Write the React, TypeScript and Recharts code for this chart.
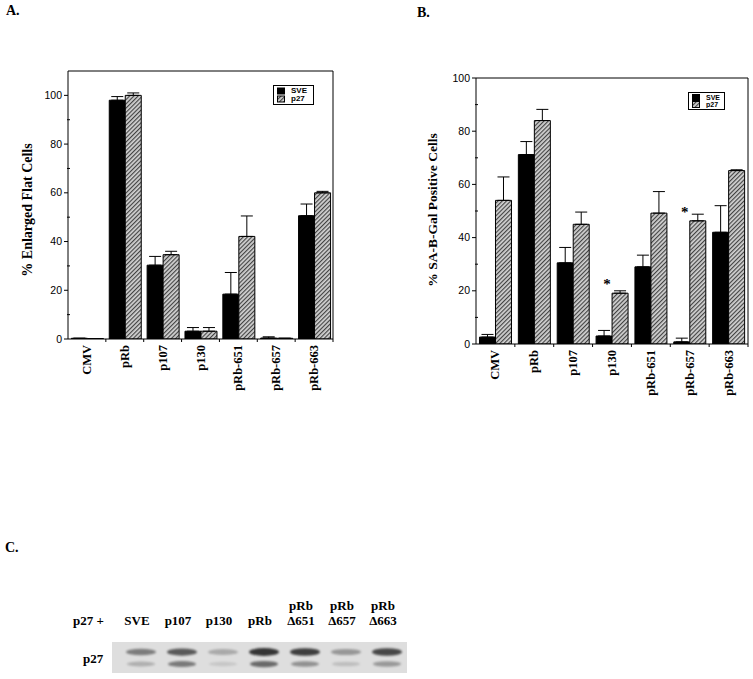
import { BarChart, Bar, XAxis, YAxis, ErrorBar, LabelList } from "recharts";

const categories = ["CMV", "pRb", "p107", "p130", "pRb-651", "pRb-657", "pRb-663"];

// panel A: % enlarged flat cells
const flatSve = [0.3, 98, 30.3, 3.2, 18.4, 0.4, 50.6];
const flatSveErr = [0, 1.5, 3.6, 1.5, 8.9, 0.5, 4.8];
const flatP27 = [0.2, 100, 34.6, 3.2, 42.1, 0.3, 60];
const flatP27Err = [0, 1, 1.4, 1.5, 8.4, 0, 0.6];
const flatTicks = [0, 10, 20, 30, 40, 50, 60, 70, 80, 90, 100];

// panel B: % SA-B-Gal positive cells
const galSve = [2.6, 71.2, 30.5, 3, 29, 0.8, 42];
const galSveErr = [1, 4.9, 5.8, 2.1, 4.4, 1.4, 10];
const galP27 = [54, 84, 45, 19.1, 49.2, 46.3, 65.2];
const galP27Err = [8.8, 4.2, 4.6, 0.9, 8.1, 2.5, 0.3];
const galStars = [false, false, false, true, false, true, false];
const galTicks = [0, 10, 20, 30, 40, 50, 60, 70, 80, 90, 100];

// panel C: western blot lanes
const blotLanes = ["SVE", "p107", "p130", "pRb", "Δ651", "Δ657", "Δ663"];
const blotTop = ["", "", "", "", "pRb", "pRb", "pRb"];
const blotUpper = [0.55, 0.75, 0.3, 0.95, 0.9, 0.4, 0.85];
const blotLower = [0.3, 0.65, 0.15, 0.75, 0.5, 0.2, 0.45];

const SERIF = "'Liberation Serif', 'Times New Roman', serif";
const SANS = "'Liberation Sans', Arial, sans-serif";

const buildRows = (sve: number[], sveErr: number[], p27: number[], p27Err: number[], stars?: boolean[]) =>
  categories.map((name, i) => ({
    name,
    sve: sve[i],
    sveErr: [0, sveErr[i]],
    p27: p27[i],
    p27Err: [0, p27Err[i]],
    star: stars ? stars[i] : false,
  }));

function CatTick(props: any) {
  const { x, y, payload, band } = props;
  return (
    <g>
      <line x1={x + band / 2} x2={x + band / 2} y1={y} y2={y + 3} stroke="#000" />
      <text
        transform={`translate(${x + 4},${y + 6}) rotate(-90)`}
        textAnchor="end"
        fontFamily={SERIF}
        fontWeight="bold"
        fontSize={12.5}
        fill="#000"
      >
        {payload.value}
      </text>
    </g>
  );
}

function ValTick(props: any) {
  const { x, y, payload } = props;
  const major = payload.value % 20 === 0;
  return (
    <g>
      <line x1={major ? x - 4 : x - 1} x2={major ? x : x + 2} y1={y} y2={y} stroke="#000" />
      {major && (
        <text x={x - 6} y={y} dy={3.6} textAnchor="end" fontFamily={SANS} fontSize={10.5} fill="#000">
          {payload.value}
        </text>
      )}
    </g>
  );
}

function Star(props: any) {
  const { x, y, index, stars } = props;
  if (!stars || !stars[index]) return null;
  return (
    <text x={x - 5} y={y - 4} textAnchor="middle" fontFamily={SERIF} fontWeight="bold" fontSize={15} fill="#000" stroke="none">
      *
    </text>
  );
}

function LegendBox({ left, top, w, h, fs }: { left: number; top: number; w: number; h: number; fs: number }) {
  const row = (h - 4) / 2;
  return (
    <div
      style={{
        position: "absolute",
        left,
        top,
        width: w,
        height: h,
        border: "1px solid #000",
        boxSizing: "border-box",
        background: "#fff",
        fontFamily: SANS,
        fontSize: fs,
        lineHeight: `${row}px`,
        fontWeight: "bold",
        padding: "1px 3px",
      }}
    >
      {[
        { label: "SVE", fill: "#000" },
        { label: "p27", fill: "url(#hatch)" },
      ].map((r) => (
        <div key={r.label} style={{ display: "flex", alignItems: "center", height: row, overflow: "hidden" }}>
          <svg width={8} height={row} style={{ marginRight: 6, flex: "none" }}>
            <rect x={0.5} y={(row - 7) / 2 + 0.5} width={7} height={6} fill={r.fill} stroke="#000" />
          </svg>
          <span style={{ lineHeight: `${row}px` }}>{r.label}</span>
        </div>
      ))}
    </div>
  );
}

function Panel(props: {
  rows: any[];
  left: number;
  width: number;
  height: number;
  margin: { top: number; right: number; bottom: number; left: number };
  domainMax: number;
  ticks: number[];
  stars?: boolean[];
}) {
  const { rows, left, width, height, margin, domainMax, ticks, stars } = props;
  const plotW = width - margin.left - margin.right - 41;
  const band = plotW / categories.length;
  return (
    <div style={{ position: "absolute", left, top: 0 }}>
      <BarChart width={width} height={height} data={rows} margin={margin} barCategoryGap="9%" barGap={0}>
        <XAxis
          dataKey="name"
          interval={0}
          height={55}
          tickSize={0}
          tickMargin={0}
          tickLine={false}
          axisLine={{ stroke: "#000" }}
          tick={(p: any) => <CatTick {...p} band={band} />}
        />
        <XAxis xAxisId="top" orientation="top" dataKey="name" height={1} tick={false} tickLine={false} axisLine={{ stroke: "#000" }} />
        <YAxis
          domain={[0, domainMax]}
          ticks={ticks}
          allowDataOverflow
          width={40}
          tickSize={0}
          tickMargin={0}
          tickLine={false}
          axisLine={{ stroke: "#000" }}
          tick={(p: any) => <ValTick {...p} />}
        />
        <YAxis yAxisId="right" orientation="right" domain={[0, 1]} width={1} tick={false} tickLine={false} axisLine={{ stroke: "#000" }} />
        <Bar dataKey="sve" fill="#000" stroke="#000" strokeWidth={1} isAnimationActive={false}>
          <ErrorBar dataKey="sveErr" width={6} stroke="#000" strokeWidth={1} direction="y" />
        </Bar>
        <Bar dataKey="p27" fill="url(#hatch)" stroke="#000" strokeWidth={1} isAnimationActive={false}>
          <ErrorBar dataKey="p27Err" width={6} stroke="#000" strokeWidth={1} direction="y" />
          {stars && <LabelList dataKey="p27" content={(p: any) => <Star {...p} stars={stars} />} />}
        </Bar>
      </BarChart>
    </div>
  );
}

function Blot() {
  const x0 = 141;
  const step = 41;
  return (
    <svg width={420} height={149} style={{ position: "absolute", left: 0, top: 530 }}>
      <defs>
        <filter id="blur" x="-20%" y="-100%" width="140%" height="300%">
          <feGaussianBlur stdDeviation="1.3" />
        </filter>
      </defs>
      <text x={5} y={22} fontFamily={SERIF} fontWeight="bold" fontSize={14}>C.</text>
      <text x={73} y={95} fontFamily={SERIF} fontWeight="bold" fontSize={13}>p27 +</text>
      {blotLanes.map((l, i) => (
        <g key={l}>
          <text x={x0 - 4 + i * step} y={80} textAnchor="middle" fontFamily={SERIF} fontWeight="bold" fontSize={13}>
            {blotTop[i]}
          </text>
          <text x={x0 - 4 + i * step} y={95} textAnchor="middle" fontFamily={SERIF} fontWeight="bold" fontSize={13}>
            {l}
          </text>
        </g>
      ))}
      <text x={83} y={133} fontFamily={SERIF} fontWeight="bold" fontSize={13}>p27</text>
      <rect x={112} y={112} width={295} height={31} fill="#dedede" />
      {blotLanes.map((l, i) => (
        <g key={l} filter="url(#blur)">
          <ellipse cx={x0 + i * step} cy={122} rx={15} ry={2.5 + blotUpper[i] * 1.5} fill="#000" opacity={blotUpper[i] * 0.8} />
          <ellipse cx={x0 + i * step} cy={134} rx={14} ry={2 + blotLower[i] * 1.5} fill="#000" opacity={blotLower[i] * 0.7} />
        </g>
      ))}
    </svg>
  );
}

export default function App() {
  const flatRows = buildRows(flatSve, flatSveErr, flatP27, flatP27Err);
  const galRows = buildRows(galSve, galSveErr, galP27, galP27Err, galStars);
  return (
    <div style={{ position: "absolute", left: 0, top: 0, width: 753, height: 679, background: "#fff", overflow: "hidden" }}>
      <svg width={0} height={0} style={{ position: "absolute" }}>
        <defs>
          <pattern id="hatch" patternUnits="userSpaceOnUse" width={3} height={3} patternTransform="rotate(45)">
            <rect width={3} height={3} fill="#d2d2d2" />
            <line x1={0.6} y1={0} x2={0.6} y2={3} stroke="#3c3c3c" strokeWidth={1.1} />
          </pattern>
        </defs>
      </svg>
      <div style={{ position: "absolute", left: 6, top: 3, fontFamily: SERIF, fontWeight: "bold", fontSize: 14 }}>A.</div>
      <div style={{ position: "absolute", left: 417, top: 5, fontFamily: SERIF, fontWeight: "bold", fontSize: 14 }}>B.</div>

      <Panel
        rows={flatRows}
        left={0}
        width={345}
        height={400}
        margin={{ top: 70, right: 11, bottom: 6, left: 28 }}
        domainMax={110}
        ticks={flatTicks}
      />
      <Panel
        rows={galRows}
        left={380}
        width={373}
        height={400}
        margin={{ top: 77, right: 4, bottom: 1, left: 56 }}
        domainMax={100}
        ticks={galTicks}
        stars={galStars}
      />

      <svg width={753} height={400} style={{ position: "absolute", left: 0, top: 0, pointerEvents: "none" }}>
        <text transform="translate(32,210) rotate(-90)" textAnchor="middle" fontFamily={SERIF} fontWeight="bold" fontSize={14}>
          %  Enlarged Flat Cells
        </text>
        <text transform="translate(437,210) rotate(-90)" textAnchor="middle" fontFamily={SERIF} fontWeight="bold" fontSize={13.5}>
          % SA-B-Gal Positive Cells
        </text>
      </svg>

      <LegendBox left={273} top={85} w={41} h={20} fs={8} />
      <LegendBox left={688} top={92} w={37} h={18} fs={7} />

      <Blot />
    </div>
  );
}
